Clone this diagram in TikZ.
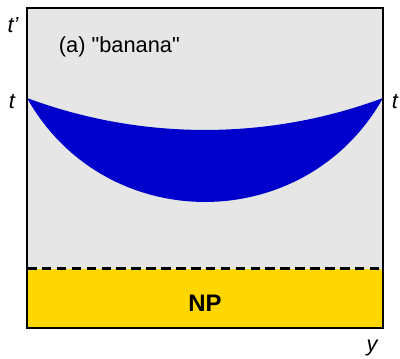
\documentclass[tikz,border=0pt]{standalone}
\usepackage{fontspec}
\setmainfont{Liberation Sans}[Ligatures=TeXOff]
\usepackage{xcolor}
\usetikzlibrary{positioning}
\definecolor{bgray}{RGB}{230,230,230}
\definecolor{banana}{RGB}{0,0,204}
\definecolor{npgold}{RGB}{255,215,0}

\begin{document}
\begin{tikzpicture}[x=0.025cm, y=-0.025cm,
    axlabel/.style={font=\fontsize{15.5}{18}\selectfont\itshape, inner sep=0pt}]
  \useasboundingbox (0,0) rectangle (400,359);
  % frame and regions
  \coordinate (bl) at (27,328);
  \coordinate (tr) at (383,8);
  \fill[bgray] (bl) rectangle (tr);
  \fill[npgold] (27,269) rectangle (383,328);
  \draw[line width=1.6pt, dash pattern=on 6.8pt off 3.8pt] (27,268.5) -- (383,268.5);
  % the banana
  \coordinate (lt) at (27,98);
  \coordinate (rt) at (383,98);
  \fill[banana] (lt) .. controls (141.2,140.6) and (268.8,140.6) .. (rt)
                     .. controls (305,236.6) and (105,236.6) .. (lt) -- cycle;
  \draw[line width=1.5pt] (bl) rectangle (tr);
  % labels
  \node[font=\fontsize{15.5}{18}\selectfont, anchor=west] (title) at (54,47) {(a) "banana"};
  \node[font=\fontsize{17}{20}\selectfont\bfseries] (np) at (205,303) {NP};
  \node[axlabel] (tp) at (13,25) {t’};
  \node[axlabel] (tl) at (12,102) {t};
  \node[axlabel] (tr0) at (395,102) {t};
  \node[axlabel] (yy) at (372,348) {y};
\end{tikzpicture}
\end{document}
